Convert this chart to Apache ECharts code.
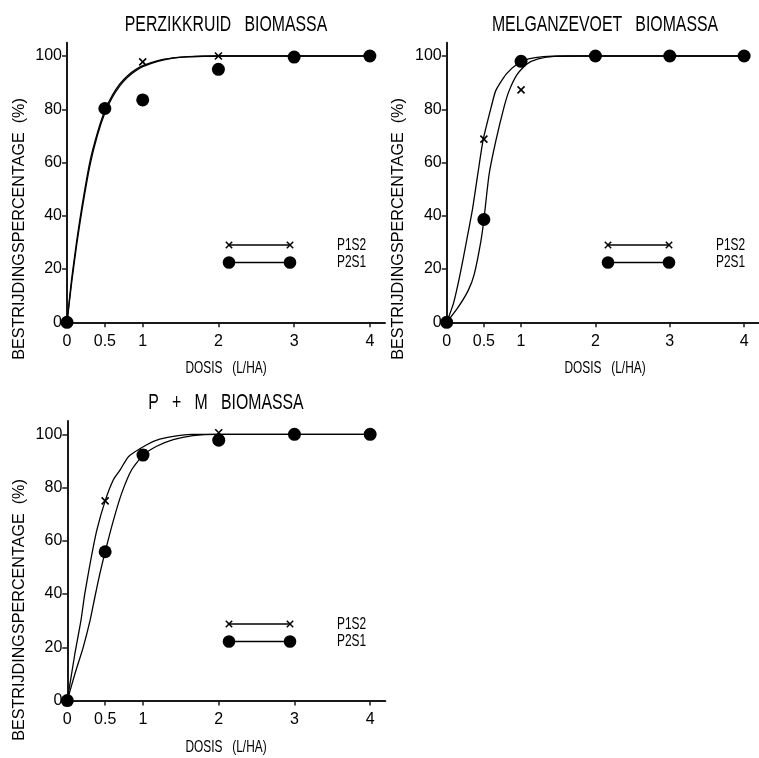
<!DOCTYPE html>
<html>
<head>
<meta charset="utf-8">
<script src="https://cdn.jsdelivr.net/npm/echarts@6/dist/echarts.min.js"></script>
<style>
html,body{margin:0;padding:0;background:#fff;}
#chart{width:759px;height:758px;}
</style>
</head>
<body>
<div id="chart"></div>
<script>
// ---------- data ----------
const chartTitles = ['PERZIKKRUID   BIOMASSA', 'MELGANZEVOET   BIOMASSA', 'P   +   M   BIOMASSA'];
const xTickValues = [0, 0.5, 1, 2, 3, 4];
const yTickValues = [0, 20, 40, 60, 80, 100];
const xAxisTitle = 'DOSIS   (L/HA)';
const yAxisTitle = 'BESTRIJDINGSPERCENTAGE  (%)';
const seriesNames = ['P1S2', 'P2S1'];

// observed points [dose, %]
const perzP1S2 = [[0, 0], [0.5, 80], [1, 97.8], [2, 100], [3, 100], [4, 100]];
const perzP2S1 = [[0, 0], [0.5, 80.3], [1, 83.5], [2, 95], [3, 99.6], [4, 100]];
const melgP1S2 = [[0, 0], [0.5, 68.8], [1, 87.3], [2, 100], [3, 100], [4, 100]];
const melgP2S1 = [[0, 0], [0.5, 38.6], [1, 98], [2, 100], [3, 100], [4, 100]];
const pmP1S2 = [[0, 0], [0.5, 75], [1, 93], [2, 100.6], [3, 100], [4, 100]];
const pmP2S1 = [[0, 0], [0.5, 55.9], [1, 92.2], [2, 97.8], [3, 100], [4, 100]];

// fitted curves [dose, %]
const perzCurveP1S2 = [[0, 0], [0.06, 16], [0.13, 31], [0.2, 44], [0.3, 60], [0.4, 71], [0.5, 79.5], [0.6, 85.3], [0.7, 89.6], [0.8, 92.6], [0.9, 94.8], [1, 96.4], [1.2, 98.3], [1.4, 99.3], [1.6, 99.8], [2, 100], [3, 100], [4, 100]];
const perzCurveP2S1 = [[0, 0], [0.06, 14.5], [0.13, 29.5], [0.2, 42.5], [0.3, 58.5], [0.4, 70], [0.5, 78.6], [0.6, 84.5], [0.7, 88.9], [0.8, 92], [0.9, 94.3], [1, 96], [1.2, 98], [1.4, 99.2], [1.6, 99.7], [2, 100], [3, 100], [4, 100]];
const melgCurveP1S2 = [[0, 0], [0.09, 7], [0.18, 18], [0.27, 31], [0.35, 43], [0.42, 56], [0.49, 68.5], [0.6, 81], [0.66, 87], [0.8, 93.2], [0.95, 97], [1.1, 98.9], [1.3, 99.8], [1.6, 100], [2, 100], [3, 100], [4, 100]];
const melgCurveP2S1 = [[0, 0], [0.15, 5.5], [0.29, 12], [0.37, 18], [0.46, 30.5], [0.5, 38.5], [0.57, 55.5], [0.66, 68], [0.77, 80.7], [0.84, 87], [0.95, 93.2], [1.08, 97], [1.23, 98.9], [1.45, 99.9], [1.8, 100], [2, 100], [3, 100], [4, 100]];
const pmCurveP1S2 = [[0, 0], [0.1, 17.6], [0.18, 30], [0.23, 40], [0.31, 52.8], [0.39, 64], [0.5, 75], [0.61, 83], [0.7, 86.7], [0.81, 91.7], [1.05, 96.1], [1.22, 98.2], [1.49, 99.6], [1.66, 100], [2, 100], [3, 100], [4, 100]];
const pmCurveP2S1 = [[0, 0], [0.1, 10], [0.21, 20], [0.3, 30], [0.365, 39], [0.43, 47.7], [0.5, 55.9], [0.61, 67.8], [0.72, 78], [0.85, 86.7], [1, 92.1], [1.18, 95.5], [1.4, 98], [1.66, 99.5], [1.97, 100], [3, 100], [4, 100]];

// ---------- build ----------
const FONT = '"Liberation Sans", Arial, sans-serif';
const panels = [
  { pts: [perzP1S2, perzP2S1], curves: [perzCurveP1S2, perzCurveP2S1] },
  { pts: [melgP1S2, melgP2S1], curves: [melgCurveP1S2, melgCurveP2S1] },
  { pts: [pmP1S2, pmP2S1], curves: [pmCurveP1S2, pmCurveP2S1] }
];
const layout = [
  { left: 67, top: 42.7, cx: 226, titleY: 25, dosisY: 368, yTitleX: 19, yTitleY: 229, legX1: 229, legX2: 290, legY1: 245, legY2: 262.5, legTextX: 337 },
  { left: 446.7, top: 42.7, cx: 605, titleY: 25, dosisY: 368, yTitleX: 398, yTitleY: 229, legX1: 608, legX2: 669, legY1: 245, legY2: 262.5, legTextX: 716 },
  { left: 67.3, top: 421, cx: 226, titleY: 403, dosisY: 747, yTitleX: 19, yTitleY: 610, legX1: 229, legX2: 290, legY1: 624, legY2: 641.5, legTextX: 337 }
];
const W = 318, H = 279.6;
const CROSS = 'path://M0,0L10,10M10,0L0,10';

const grid = [], xAxis = [], yAxis = [], series = [], graphic = [];
function txt(x, y, text, size, sx, align, rot) {
  return { type: 'text', x, y, scaleX: sx, rotation: rot || 0,
    style: { text, fontSize: size, fontFamily: FONT, fill: '#000', align, verticalAlign: 'middle' } };
}
layout.forEach((L, i) => {
  grid.push({ left: L.left, top: L.top, width: W, height: H });
  xAxis.push({
    type: 'value', gridIndex: i, min: 0, max: 4.2,
    axisLine: { lineStyle: { color: '#1a1a1a', width: 2 } },
    axisTick: { show: true, length: 5, lineStyle: { color: '#1a1a1a', width: 1.5 }, customValues: xTickValues },
    axisLabel: { customValues: xTickValues, margin: 11, fontSize: 16, fontFamily: FONT, color: '#000' },
    splitLine: { show: false }
  });
  yAxis.push({
    type: 'value', gridIndex: i, min: 0, max: 105,
    axisLine: { show: true, lineStyle: { color: '#1a1a1a', width: 2 } },
    axisTick: { show: true, length: 5, lineStyle: { color: '#1a1a1a', width: 1.5 }, customValues: yTickValues },
    axisLabel: { customValues: yTickValues, margin: 5, fontSize: 16, fontFamily: FONT, color: '#000' },
    splitLine: { show: false }
  });
  const P = panels[i];
  P.curves.forEach((c, k) => series.push({
    type: 'line', name: seriesNames[k] + ' fit', xAxisIndex: i, yAxisIndex: i, data: c,
    showSymbol: false, symbol: 'none', smooth: 0.2,
    lineStyle: { color: '#000', width: 1.3 }, silent: true, z: 2
  }));
  series.push({
    type: 'scatter', name: seriesNames[0], xAxisIndex: i, yAxisIndex: i, data: P.pts[0],
    symbol: CROSS, symbolSize: 7,
    itemStyle: { color: 'rgba(0,0,0,0)', borderColor: '#000', borderWidth: 1.6, opacity: 1 }, z: 3
  });
  series.push({
    type: 'scatter', name: seriesNames[1], xAxisIndex: i, yAxisIndex: i, data: P.pts[1],
    symbol: 'circle', symbolSize: 13, itemStyle: { color: '#000', opacity: 1 }, z: 4
  });

  // titles
  graphic.push(txt(L.cx, L.titleY, chartTitles[i], 22, 0.72, 'center'));
  graphic.push(txt(L.cx, L.dosisY, xAxisTitle, 16.5, 0.72, 'center'));
  graphic.push(txt(L.yTitleX, L.yTitleY, yAxisTitle, 17, 0.95, 'center', Math.PI / 2));

  // legend
  const c = 3.2;
  graphic.push({ type: 'line', shape: { x1: L.legX1, y1: L.legY1, x2: L.legX2, y2: L.legY1 }, style: { stroke: '#000', lineWidth: 1.3 } });
  [L.legX1, L.legX2].forEach(x => {
    graphic.push({ type: 'line', shape: { x1: x - c, y1: L.legY1 - c, x2: x + c, y2: L.legY1 + c }, style: { stroke: '#000', lineWidth: 1.5 } });
    graphic.push({ type: 'line', shape: { x1: x - c, y1: L.legY1 + c, x2: x + c, y2: L.legY1 - c }, style: { stroke: '#000', lineWidth: 1.5 } });
    graphic.push({ type: 'circle', shape: { cx: x, cy: L.legY2, r: 6.3 }, style: { fill: '#000' } });
  });
  graphic.push({ type: 'line', shape: { x1: L.legX1, y1: L.legY2, x2: L.legX2, y2: L.legY2 }, style: { stroke: '#000', lineWidth: 1.5 } });
  graphic.push(txt(L.legTextX, L.legY1, seriesNames[0], 17, 0.7, 'left'));
  graphic.push(txt(L.legTextX, L.legY2, seriesNames[1], 17, 0.7, 'left'));
});

const chart = echarts.init(document.getElementById('chart'), null, { renderer: 'canvas' });
chart.setOption({
  animation: false,
  backgroundColor: '#fff',
  grid, xAxis, yAxis, series, graphic
});
</script>
</body>
</html>
